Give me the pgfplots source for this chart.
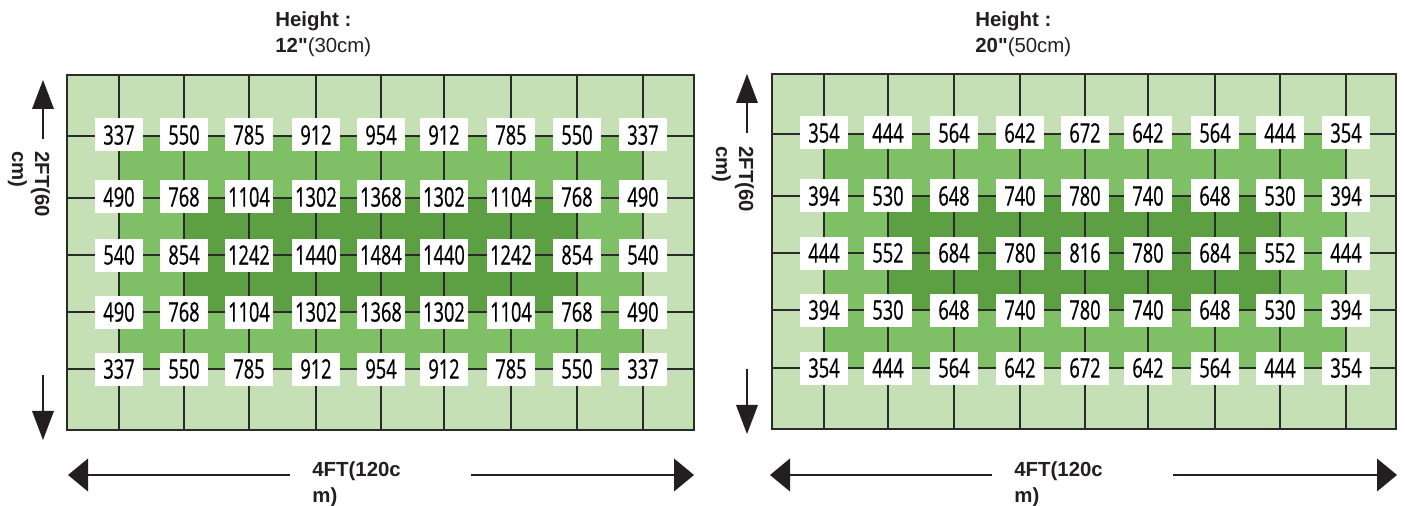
\documentclass[border=0pt]{standalone}
\usepackage{fontspec}
\setmainfont{Liberation Sans}
\newfontfamily\plainq[Ligatures=TeXOff]{Liberation Sans}
\newfontfamily\numfont[FakeStretch=0.68, FakeBold=0.5]{Open Sans}
\usepackage{pgfplots}
\pgfplotsset{compat=1.18}

\definecolor{zlight}{HTML}{C5E0B4}
\definecolor{zmid}{HTML}{7FBF65}
\definecolor{zdark}{HTML}{5DA043}
\definecolor{gline}{HTML}{2B2B2B}
\definecolor{ink}{HTML}{231F20}

% one panel = px coordinates of the reference, y downwards
\pgfplotsset{
  ppfd/.style={hide axis, scale only axis, clip=false, y dir=reverse},
  vals/.style={
    only marks, mark=*, mark size=0pt, mark options={draw=none,fill=none},
    point meta=explicit symbolic, nodes near coords,
    every node near coord/.append style={anchor=center, fill=white, text=black,
      inner sep=0pt, minimum width=24pt, minimum height=16.5pt,
      font=\numfont\fontsize{13.4}{14}\selectfont},
  },
}
\tikzset{
  gl/.style={draw=gline, line width=0.65pt},
  shaft/.style={draw=ink, line width=1.45pt},
  lbl/.style={inner sep=0pt, text=ink, font=\fontsize{10.2}{12}\selectfont},
}

\begin{document}
\begin{tikzpicture}
\useasboundingbox (0pt,0pt) rectangle (702.5pt,-253pt);

% ---------- 12" ----------
\begin{axis}[ppfd, at={(33.5pt,-37.5pt)}, anchor=north west,
  width=313.5pt, height=177.5pt, xmin=67, xmax=694, ymin=75, ymax=430]
\addplot[fill=zlight, draw=none] coordinates {(67,75) (694,75) (694,430) (67,430)};
\addplot[fill=zmid, draw=none] coordinates {(119,136) (643,136) (643,369) (119,369)};
\addplot[fill=zdark, draw=none] coordinates {(184,198) (577,198) (577,312) (184,312)};
\pgfplotsinvokeforeach{119,184,249,316,381,444,511,577,643}{
  \draw[gl] (axis cs:#1,75) -- (axis cs:#1,430);}
\pgfplotsinvokeforeach{136,198,255,312,369}{
  \draw[gl] (axis cs:67,#1) -- (axis cs:694,#1);}
\draw[draw=gline, line width=0.8pt] (axis cs:67,75) rectangle (axis cs:694,430);
\addplot[vals] table[meta=v] {
x y v
119 135 337
184 135 550
249 135 785
316 135 912
381 135 954
444 135 912
511 135 785
577 135 550
643 135 337
119 197 490
184 197 768
249 197 1104
316 197 1302
381 197 1368
444 197 1302
511 197 1104
577 197 768
643 197 490
119 255 540
184 255 854
249 255 1242
316 255 1440
381 255 1484
444 255 1440
511 255 1242
577 255 854
643 255 540
119 312 490
184 312 768
249 312 1104
316 312 1302
381 312 1368
444 312 1302
511 312 1104
577 312 768
643 312 490
119 369 337
184 369 550
249 369 785
316 369 912
381 369 954
444 369 912
511 369 785
577 369 550
643 369 337
};
\end{axis}

% ---------- 20" ----------
\begin{axis}[ppfd, at={(386pt,-37pt)}, anchor=north west,
  width=312pt, height=177.5pt, xmin=772, xmax=1396, ymin=74, ymax=429]
\addplot[fill=zlight, draw=none] coordinates {(772,74) (1396,74) (1396,429) (772,429)};
\addplot[fill=zmid, draw=none] coordinates {(824,134) (1346,134) (1346,368) (824,368)};
\addplot[fill=zdark, draw=none] coordinates {(888,196) (1280,196) (1280,310) (888,310)};
\pgfplotsinvokeforeach{824,888,954,1020,1085,1148,1215,1280,1346}{
  \draw[gl] (axis cs:#1,74) -- (axis cs:#1,429);}
\pgfplotsinvokeforeach{134,196,253,310,368}{
  \draw[gl] (axis cs:772,#1) -- (axis cs:1396,#1);}
\draw[draw=gline, line width=0.8pt] (axis cs:772,74) rectangle (axis cs:1396,429);
\addplot[vals] table[meta=v] {
x y v
824 133 354
888 133 444
954 133 564
1020 133 642
1085 133 672
1148 133 642
1215 133 564
1280 133 444
1346 133 354
824 196 394
888 196 530
954 196 648
1020 196 740
1085 196 780
1148 196 740
1215 196 648
1280 196 530
1346 196 394
824 253 444
888 253 552
954 253 684
1020 253 780
1085 253 816
1148 253 780
1215 253 684
1280 253 552
1346 253 444
824 310 394
888 310 530
954 310 648
1020 310 740
1085 310 780
1148 310 740
1215 310 648
1280 310 530
1346 310 394
824 368 354
888 368 444
954 368 564
1020 368 642
1085 368 672
1148 368 642
1215 368 564
1280 368 444
1346 368 354
};
\end{axis}

% ---------- titles, dimension arrows (px units) ----------
\begin{scope}[x=0.5pt, y=-0.5pt]
% titles
\node[lbl, anchor=base west] at (275,27) {\bfseries Height :};
\node[lbl, anchor=base west] at (275,53) {{\plainq\bfseries 12"}(30cm)};
\node[lbl, anchor=base west] at (975,27) {\bfseries Height :};
\node[lbl, anchor=base west] at (975,53) {{\plainq\bfseries 20"}(50cm)};

% left panel: vertical arrow + label
\draw[shaft] (43,107) -- (43,139);
\fill[ink] (43,80) -- (54,109) -- (32,109) -- cycle;
\draw[shaft] (43,375) -- (43,413);
\fill[ink] (43,440) -- (54,411) -- (32,411) -- cycle;
\node[lbl, rotate=-90, anchor=base west] at (35,151) {\bfseries 2FT(60};
\node[lbl, rotate=-90, anchor=base west] at (12,151) {\bfseries cm)};

% right panel: vertical arrow + label
\draw[shaft] (747,101) -- (747,133);
\fill[ink] (747,74) -- (758,103) -- (736,103) -- cycle;
\draw[shaft] (747,369) -- (747,407);
\fill[ink] (747,434) -- (758,405) -- (736,405) -- cycle;
\node[lbl, rotate=-90, anchor=base west] at (739,146) {\bfseries 2FT(60};
\node[lbl, rotate=-90, anchor=base west] at (716,146) {\bfseries cm)};

% left panel: horizontal arrow + label
\draw[shaft] (86,475) -- (290,475);
\fill[ink] (68,475) -- (88,458.5) -- (88,491.5) -- cycle;
\draw[shaft] (471,475) -- (676,475);
\fill[ink] (694,475) -- (674,458.5) -- (674,491.5) -- cycle;
\node[lbl, anchor=base west] at (312,477) {\bfseries 4FT(120c};
\node[lbl, anchor=base west] at (312,503) {\bfseries m)};

% right panel: horizontal arrow + label
\draw[shaft] (788,475) -- (992,475);
\fill[ink] (770,475) -- (790,458.5) -- (790,491.5) -- cycle;
\draw[shaft] (1173,475) -- (1379,475);
\fill[ink] (1397,475) -- (1377,458.5) -- (1377,491.5) -- cycle;
\node[lbl, anchor=base west] at (1014,477) {\bfseries 4FT(120c};
\node[lbl, anchor=base west] at (1014,503) {\bfseries m)};
\end{scope}
\end{tikzpicture}
\end{document}
